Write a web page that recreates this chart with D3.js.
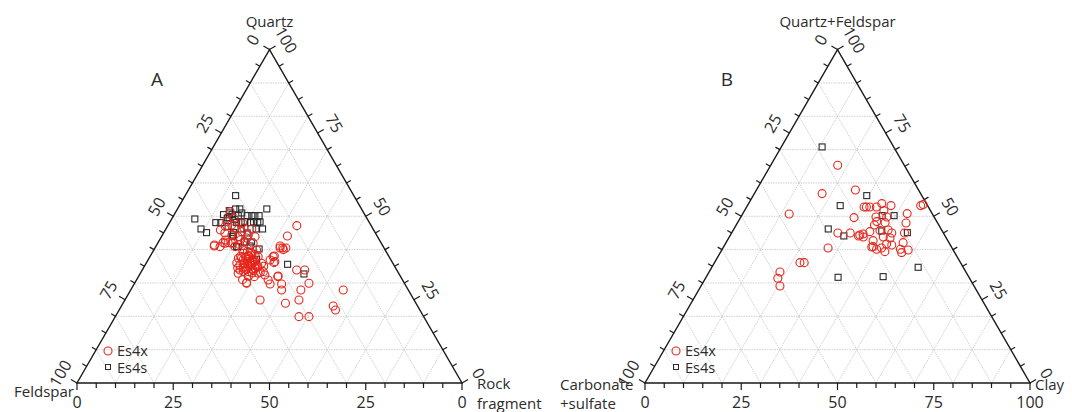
<!DOCTYPE html>
<html>
<head>
<meta charset="utf-8">
<script src="https://cdn.jsdelivr.net/npm/d3@7"></script>
<style>
  body { margin: 0; background: #fff; }
  svg { display: block; font-family: "Open Sans", sans-serif; }
</style>
</head>
<body>
<svg id="chart" width="1072" height="412"></svg>
<script>
// Panel A: [quartz, feldspar, rock fragment] in %
const es4xA = [
  [47.2,19.3,33.5],[44.1,23.3,32.6],[40.5,27.0,32.5],[40.5,26.3,33.2],[40.5,25.5,34.0],[41.1,26.7,32.2],
  [40.0,26.4,33.6],[38.1,29.7,32.2],[36.9,31.4,31.7],[36.1,30.8,33.1],[33.9,26.0,40.1],[33.9,23.9,42.2],
  [29.9,24.8,45.3],[27.9,27.9,44.2],[27.9,32.9,39.2],[31.9,31.9,36.2],[29.7,32.0,38.3],[24.9,29.9,45.2],
  [23.9,33.9,42.2],[24.9,40.0,35.1],[29.9,41.0,29.1],[19.9,32.4,47.7],[19.9,29.8,50.3],[23.1,21.9,55.0],
  [21.9,21.9,56.2],[27.9,16.9,55.2],[41.1,43.8,15.1],[42.1,41.0,16.9],[42.1,39.7,18.2],[42.1,38.4,19.5],
  [43.5,34.2,22.3],[43.9,31.8,24.3],[46.2,31.5,22.3],[46.5,33.4,20.1],[37.9,36.6,25.5],[36.9,38.4,24.7],
  [35.9,36.7,27.4],[34.9,38.9,26.2],[34.4,36.6,29.0],[33.4,38.8,27.8],[33.9,40.7,25.4],[37.4,39.4,23.2],
  [37.9,34.0,28.1],[35.9,34.1,30.0],[33.4,34.9,31.7],[32.9,41.7,25.4],[30.1,40.9,29.0],[31.9,38.0,30.1],
  [32.4,35.0,32.6],[30.9,34.9,34.2],[29.7,35.0,35.3],[39.9,33.4,26.7],[40.9,38.5,20.6],[41.9,40.6,17.5],
  [41.9,38.9,19.2],[40.9,42.4,16.7],[37.9,30.1,32.0],[36.4,30.4,33.2],[38.9,35.2,25.9],[38.9,37.3,23.8],
  [35.4,40.0,24.6],[32.9,36.5,30.6],[32.1,31.7,36.2],[48.4,36.9,14.7],[46.5,35.7,17.8],[45.4,34.5,20.1],
  [44.4,33.3,22.3],[51.4,34.5,14.1],[47.4,36.1,16.5],[41.4,43.6,15.0],[42.4,35.2,22.4],[41.9,33.3,24.8],
  [45.0,39.1,15.9],[43.9,36.2,19.9],[36.5,37.5,26.0],[35.5,36.0,28.5],[34.0,39.0,27.0],[37.0,35.5,27.5],
  [36.0,38.5,25.5],[33.0,38.0,29.0],[35.0,35.5,29.5],[38.5,34.5,27.0],[34.5,41.0,24.5],[36.0,40.5,23.5],
  [33.5,40.0,26.5],[37.5,38.5,24.0],[31.0,41.5,27.5],[32.0,39.5,28.5],[39.5,36.0,24.5],[35.0,34.0,31.0],
  [49.5,34.5,16.0],[48.0,33.0,19.0],[47.0,38.0,15.0],[44.5,37.5,18.0],[43.0,36.0,21.0],[41.5,37.0,21.5],
  [40.0,37.0,23.0],[45.9,39.8,14.3],[42.9,40.0,17.1],
  [36.2,37.0,26.8],[35.2,37.8,27.0],[34.2,37.3,28.5],[37.2,37.0,25.8],[36.7,36.0,27.3],[35.7,38.8,25.5],
  [34.7,35.8,29.5],[33.7,37.3,29.0],[37.7,37.3,25.0],[38.2,36.3,25.5],[35.4,37.1,27.5],[36.4,35.6,28.0],
  [34.4,39.6,26.0],[33.2,35.8,31.0],[38.0,38.5,23.5],[39.2,35.3,25.5]
];
const es4sA = [
  [56.2,30.7,13.1],[49.2,44.8,6.0],[46.2,44.7,9.1],[45.1,43.8,11.1],[48.1,39.9,12.0],[48.1,38.6,13.3],
  [51.7,34.6,13.7],[52.2,32.7,15.1],[52.2,31.6,16.2],[50.5,34.5,15.0],[50.2,33.0,16.8],[50.2,30.7,19.1],
  [50.2,28.7,21.1],[50.2,27.6,22.2],[52.2,24.6,23.2],[48.1,30.9,21.0],[48.1,29.0,22.9],[46.2,28.7,25.1],
  [45.1,36.8,18.1],[46.2,34.3,19.5],[45.0,33.3,21.7],[43.9,37.7,18.4],[42.3,33.5,24.2],[42.3,35.4,22.3],
  [40.9,38.1,21.0],[41.1,34.5,24.4],[40.2,32.6,27.2],[37.1,34.8,28.1],[35.6,27.5,36.9],[32.7,24.7,42.6],
  [49.5,36.2,14.3],[50.5,36.7,12.8],[48.1,34.5,17.4],[46.9,37.3,15.8],[51.0,34.8,14.2],[51.0,31.7,17.3],
  [49.0,34.5,16.5],[48.4,32.2,19.4],[50.2,29.5,20.3],[48.3,30.0,21.7],[48.3,28.3,23.4],[49.6,35.7,14.7],
  [48.1,33.3,18.6],[44.4,37.2,18.4],[40.9,37.7,21.4],[46.2,30.4,23.4]
];

// Panel B: [quartz+feldspar, carbonate+sulfate, clay] in %
const es4xB = [
  [65.3,17.3,17.4],[56.8,25.6,17.6],[57.9,16.4,25.7],[50.7,37.2,12.1],[49.6,20.9,29.5],[45.0,27.4,27.6],
  [45.0,24.2,30.8],[44.4,22.0,33.6],[43.8,21.4,34.8],[40.5,32.2,27.3],[36.1,41.7,22.2],[36.1,40.6,23.3],
  [33.3,48.3,18.4],[31.4,49.8,18.8],[29.1,50.4,20.5],[52.8,15.2,32.0],[52.8,16.1,31.1],[52.8,13.5,33.7],
  [53.8,11.6,34.6],[53.2,9.5,37.3],[51.7,12.1,36.2],[49.8,15.1,35.1],[49.8,12.3,37.9],[48.4,15.6,36.0],
  [48.1,13.6,38.3],[50.8,6.5,42.7],[48.0,8.2,43.8],[53.2,1.8,45.0],[53.5,1.0,45.5],[47.4,16.7,35.9],
  [45.4,18.9,35.7],[45.7,16.1,38.2],[45.9,13.9,40.2],[45.0,13.4,41.6],[43.5,14.6,41.9],[43.8,16.2,40.0],
  [44.7,21.0,34.3],[44.1,22.5,33.4],[42.7,19.4,37.9],[40.9,20.3,38.8],[40.1,19.8,40.1],[41.7,16.4,41.9],
  [41.4,15.2,43.4],[40.5,18.3,41.2],[42.1,11.9,46.0],[40.1,13.6,46.3],[39.1,13.8,47.1],[39.9,11.7,48.4],
  [45.0,10.1,44.9],[52.8,16.7,30.5],[39.4,18.0,42.6],[40.8,20.7,38.5]
];
const es4sB = [
  [70.8,18.6,10.6],[56.2,14.3,29.5],[53.2,22.7,24.1],[50.2,10.2,39.6],[50.2,13.3,36.5],[46.2,29.3,24.5],
  [44.1,26.3,29.6],[45.6,15.7,38.7],[45.1,9.3,45.6],[34.7,11.7,53.6],[31.9,22.2,45.9],[31.7,34.0,34.3]
];

const tickValues = [0, 25, 50, 75, 100];
const bottomLabelsA = ["0", "25", "50", "25", "0"];
const bottomLabelsB = ["0", "25", "50", "75", "100"];
const seriesNames = ["Es4x", "Es4s"];

const RED = "#e5261c", DARK = "#2b2b2b";
const svg = d3.select("#chart");

function drawPanel(cfg) {
  const side = 385, h = side * Math.sqrt(3) / 2;
  // ternary -> cartesian via two linear scales
  const u = d3.scaleLinear().domain([0, 100]).range([cfg.x0, cfg.x0 + side]);
  const v = d3.scaleLinear().domain([0, 100]).range([cfg.y0, cfg.y0 - h]);
  const pt = d => [u(d[2] + d[0] / 2), v(d[0])];

  const g = svg.append("g");

  // grid every 10%
  const gridG = g.append("g").attr("stroke", "#c4c4c4").attr("stroke-width", 0.8)
    .attr("stroke-dasharray", "1.5,1").attr("fill", "none");
  d3.range(10, 100, 10).forEach(k => {
    const segs = [
      [[k, 100 - k, 0], [k, 0, 100 - k]],
      [[0, 100 - k, k], [100 - k, 0, k]],
      [[0, k, 100 - k], [100 - k, k, 0]]
    ];
    segs.forEach(s => {
      const a = pt(s[0]), b = pt(s[1]);
      gridG.append("line").attr("x1", a[0]).attr("y1", a[1]).attr("x2", b[0]).attr("y2", b[1]);
    });
  });

  // frame
  g.append("path")
    .attr("d", d3.line()([pt([0, 100, 0]), pt([0, 0, 100]), pt([100, 0, 0])]) + "Z")
    .attr("fill", "none").attr("stroke", "#1a1a1a").attr("stroke-width", 1.4);

  // ticks every 5%, perpendicular outward
  const c = Math.sqrt(3) / 2;
  const edges = [
    { p: t => [0, 100 - t, t], n: [0, 1] },        // bottom
    { p: t => [100 - t, t, 0], n: [-c, -0.5] },     // left
    { p: t => [t, 0, 100 - t], n: [c, -0.5] }       // right
  ];
  const tickG = g.append("g").attr("stroke", "#1a1a1a").attr("stroke-width", 1.2);
  edges.forEach(e => {
    d3.range(0, 101, 5).forEach(t => {
      const a = pt(e.p(t)), len = t % 25 === 0 ? 7 : 5;
      tickG.append("line").attr("x1", a[0]).attr("y1", a[1])
        .attr("x2", a[0] + e.n[0] * len).attr("y2", a[1] + e.n[1] * len);
    });
  });

  // tick labels
  const lab = g.append("g").attr("fill", DARK).attr("font-size", 16)
    .attr("text-anchor", "middle");
  tickValues.forEach((t, i) => {
    let a = pt(edges[0].p(t));
    lab.append("text").attr("x", a[0]).attr("y", a[1] + 19.5).attr("dy", "0.35em").text(cfg.bottomLabels[i]);
    a = pt(edges[1].p(t));
    let x = a[0] - c * 19, y = a[1] - 0.5 * 19;
    lab.append("text").attr("transform", `translate(${x},${y}) rotate(-60)`).attr("dy", "0.35em").text(t);
    a = pt(edges[2].p(t));
    x = a[0] + c * 19; y = a[1] - 0.5 * 19;
    lab.append("text").attr("transform", `translate(${x},${y}) rotate(60)`).attr("dy", "0.35em").text(t);
  });

  // axis titles
  const tt = g.append("g").attr("fill", DARK).attr("font-size", 15);
  tt.append("text").attr("x", u(50)).attr("y", 27).attr("text-anchor", "middle").text(cfg.top);
  cfg.left.forEach(l => tt.append("text").attr("x", l.x).attr("y", l.y).attr("text-anchor", l.anchor).text(l.t));
  cfg.right.forEach(l => tt.append("text").attr("x", l.x).attr("y", l.y).text(l.t));

  g.append("text").attr("x", cfg.letterX).attr("y", 86).attr("font-size", 19)
    .attr("fill", DARK).attr("text-anchor", "middle").text(cfg.letter);

  // points
  const sq = 6;
  g.append("g").selectAll("rect").data(cfg.squares).join("rect")
    .attr("x", d => pt(d)[0] - sq / 2).attr("y", d => pt(d)[1] - sq / 2)
    .attr("width", sq).attr("height", sq)
    .attr("fill", "none").attr("stroke", DARK).attr("stroke-width", 1.1);
  g.append("g").selectAll("circle").data(cfg.circles).join("circle")
    .attr("cx", d => pt(d)[0]).attr("cy", d => pt(d)[1]).attr("r", 4)
    .attr("fill", "none").attr("stroke", RED).attr("stroke-width", 1.1);

  // legend
  const lg = g.append("g").attr("transform", `translate(${cfg.x0 + 31},351)`);
  lg.append("circle").attr("cx", 0).attr("cy", 0).attr("r", 4)
    .attr("fill", "none").attr("stroke", RED).attr("stroke-width", 1.1);
  lg.append("rect").attr("x", -2.5).attr("y", 13.5).attr("width", 5).attr("height", 5)
    .attr("fill", "none").attr("stroke", DARK).attr("stroke-width", 1);
  seriesNames.forEach((s, i) => lg.append("text").attr("x", 9).attr("y", i * 16.5 + 5)
    .attr("font-size", 14.5).attr("fill", DARK).text(s));
}

drawPanel({
  x0: 77, y0: 383, letter: "A", letterX: 157,
  top: "Quartz",
  left: [{ t: "Feldspar", x: 74, y: 397, anchor: "end" }],
  right: [{ t: "Rock", x: 477, y: 389 }, { t: "fragment", x: 477, y: 409 }],
  bottomLabels: bottomLabelsA, circles: es4xA, squares: es4sA
});
drawPanel({
  x0: 645, y0: 383, letter: "B", letterX: 727,
  top: "Quartz+Feldspar",
  left: [{ t: "Carbonate", x: 560, y: 390, anchor: "start" }, { t: "+sulfate", x: 560, y: 409, anchor: "start" }],
  right: [{ t: "Clay", x: 1035, y: 390 }],
  bottomLabels: bottomLabelsB, circles: es4xB, squares: es4sB
});
</script>
</body>
</html>
